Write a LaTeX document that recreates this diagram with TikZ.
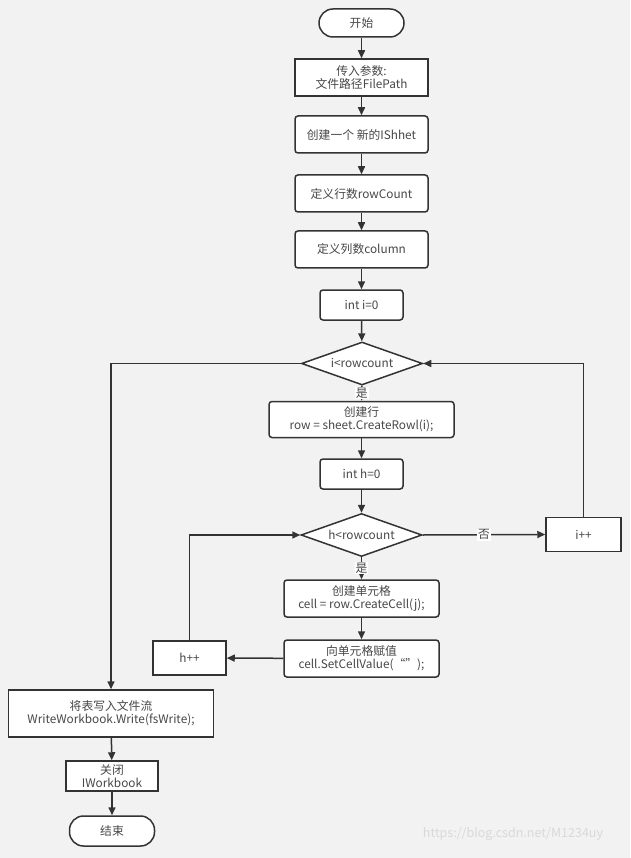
\documentclass[tikz,border=0pt]{standalone}
\usepackage{fontspec}
\setmainfont{Noto Sans CJK SC}
\usetikzlibrary{shapes.geometric,arrows.meta}
\definecolor{bgcol}{HTML}{F2F2F2}
\definecolor{inkcol}{HTML}{333333}
\begin{document}
\begin{tikzpicture}[x=1pt,y=-1pt,
  every node/.style={font=\fontsize{11.8}{13}\selectfont, text=inkcol!90, align=center},
  box/.style={draw=inkcol, fill=white, line width=1.5pt, inner sep=0pt},
  proc/.style={box, rounded corners=3pt},
  term/.style={box, rounded corners=14pt},
  cond/.style={box, diamond, aspect=2.8},
  flow/.style={draw=inkcol, line width=1.5pt, -{Triangle[length=8pt,width=7pt]}},
  tag/.style={fill=white, inner sep=1pt}]
\useasboundingbox[fill=bgcol] (0,0) rectangle (630,858);
% main column
\node[term, minimum width=85pt, minimum height=28pt] (start) at (361.5,23) {开始};
\node[box, minimum width=133pt, minimum height=37pt] (param) at (361.5,77.5) {传入参数:\\文件路径FilePath};
\node[proc, minimum width=133pt, minimum height=37pt] (sheet) at (361.5,134.5) {创建一个 新的IShhet};
\node[proc, minimum width=133pt, minimum height=37pt] (rows) at (361.5,193.5) {定义行数rowCount};
\node[proc, minimum width=133pt, minimum height=37pt] (cols) at (361.5,249.5) {定义列数column};
\node[proc, minimum width=83pt, minimum height=30pt] (iinit) at (361.5,305) {int i=0};
\node[cond, minimum width=121pt, minimum height=43pt] (icond) at (362,363.5) {i<rowcount};
\node[proc, minimum width=185pt, minimum height=36pt] (mkrow) at (361.5,419.5) {创建行\\row = sheet.CreateRowl(i);};
\node[proc, minimum width=83pt, minimum height=30pt] (hinit) at (361.5,474) {int h=0};
\node[cond, minimum width=121pt, minimum height=43pt] (hcond) at (361.5,535) {h<rowcount};
\node[proc, minimum width=155pt, minimum height=37pt] (mkcell) at (361.5,598.5) {创建单元格\\cell = row.CreateCell(j);};
\node[proc, minimum width=155pt, minimum height=37pt] (setval) at (361.5,658.5) {向单元格赋值\\cell.SetCellValue(“”);};
% side boxes
\node[box, minimum width=73pt, minimum height=34pt] (hinc) at (189.5,658) {h++};
\node[box, minimum width=75pt, minimum height=34pt] (iinc) at (583.5,534.5) {i++};
% exit column
\node[box, minimum width=205pt, minimum height=47pt] (write) at (111,713.5) {将表写入文件流\\WriteWorkbook.Write(fsWrite);};
\node[box, minimum width=92pt, minimum height=30pt] (close) at (112,776) {关闭\\IWorkbook};
\node[term, minimum width=85pt, minimum height=30pt] (stop) at (112,831) {结束};
\node[font=\fontsize{12.5}{14}\selectfont, text=gray!30] (mark) at (513,834) {https://blog.csdn.net/M1234uy};

\draw[flow] (start) -- (param);
\draw[flow] (param) -- (sheet);
\draw[flow] (sheet) -- (rows);
\draw[flow] (rows) -- (cols);
\draw[flow] (cols) -- (iinit);
\draw[flow] (iinit) -- (icond);
\draw[flow] (icond) -- node[tag] {是} (mkrow);
\draw[flow] (mkrow) -- (hinit);
\draw[flow] (hinit) -- (hcond);
\draw[flow] (hcond) -- node[tag] {是} (mkcell);
\draw[flow] (mkcell) -- (setval);
\draw[flow] (setval) -- (hinc);
\draw[flow] (hinc.north) |- (hcond.west);
\draw[flow] (hcond.east) -- node[tag] {否} (iinc.west);
\draw[flow] (iinc.north) |- (icond.east);
\draw[flow] (icond.west) -| (write.north);
\draw[flow] (write) -- (close);
\draw[flow] (close) -- (stop);
\end{tikzpicture}
\end{document}
